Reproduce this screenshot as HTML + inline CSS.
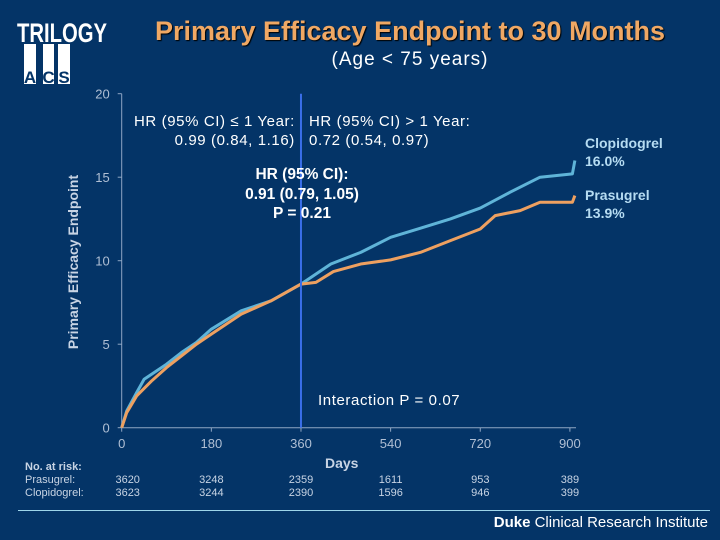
<!DOCTYPE html>
<html><head><meta charset="utf-8">
<style>
html,body{margin:0;padding:0;}
body{width:720px;height:540px;background:#043467;overflow:hidden;position:relative;font-family:"Liberation Sans",sans-serif;}
.abs{position:absolute;white-space:nowrap;}
</style></head>
<body>
<svg width="720" height="540" style="position:absolute;left:0;top:0">
  <g>
    <text x="62" y="42" text-anchor="middle" font-family="Liberation Sans" font-weight="bold" font-size="27" fill="#fff" textLength="90" lengthAdjust="spacingAndGlyphs">TRILOGY</text>
    <rect x="24" y="44" width="12" height="40" fill="#fff"/>
    <rect x="43" y="44" width="11" height="40" fill="#fff"/>
    <rect x="58" y="44" width="12" height="40" fill="#fff"/>
    <text x="30" y="83" text-anchor="middle" font-family="Liberation Sans" font-weight="bold" font-size="17" fill="#043467">A</text>
    <text x="48.5" y="83" text-anchor="middle" font-family="Liberation Sans" font-weight="bold" font-size="17" fill="#043467">C</text>
    <text x="64" y="83" text-anchor="middle" font-family="Liberation Sans" font-weight="bold" font-size="17" fill="#043467">S</text>
  </g>
  <g id="axes"></g>
  <g id="series"></g>
</svg>
<div class="abs" style="left:0;width:820px;top:16px;text-align:center;font-size:27px;font-weight:bold;color:#f0a864;text-shadow:1px 1px 1px #000;">Primary Efficacy Endpoint to 30 Months</div>
<div class="abs" style="left:0;width:820px;top:49px;text-align:center;font-size:19px;letter-spacing:1px;color:#fff;">(Age &lt; 75 years)</div>
<div class="abs" style="left:73px;top:262px;transform:translate(-50%,-50%) rotate(-90deg);font-size:14px;font-weight:bold;color:#c8d4e4;">Primary Efficacy Endpoint</div>
<div class="abs" style="left:134px;top:112px;font-size:15px;letter-spacing:0.6px;color:#fff;line-height:19px;text-align:right;">HR (95% CI) ≤ 1 Year:<br>0.99 (0.84, 1.16)</div>
<div class="abs" style="left:309px;top:112px;font-size:15px;letter-spacing:0.6px;color:#fff;line-height:19px;">HR (95% CI) &gt; 1 Year:<br>0.72 (0.54, 0.97)</div>
<div class="abs" style="left:202px;top:165px;width:200px;text-align:center;font-size:15.5px;font-weight:bold;color:#fff;line-height:19.5px;">HR (95% CI):<br>0.91 (0.79, 1.05)<br>P = 0.21</div>
<div class="abs" style="left:318px;top:392px;font-size:15px;letter-spacing:0.6px;color:#fff;">Interaction P = 0.07</div>
<div class="abs" style="left:585px;top:134px;font-size:14px;font-weight:bold;color:#b6dcf2;line-height:18px;">Clopidogrel<br>16.0%</div>
<div class="abs" style="left:585px;top:186px;font-size:14px;font-weight:bold;color:#b6dcf2;line-height:18px;">Prasugrel<br>13.9%</div>
<div class="abs" style="left:325px;top:455px;font-size:14px;font-weight:bold;color:#c8d4e4;">Days</div>
<div class="abs" style="left:25px;top:461px;font-size:11px;font-weight:bold;color:#c8d4e4;">No. at risk:</div>
<div class="abs" style="left:25px;top:474px;font-size:11px;color:#c8d4e4;">Prasugrel:</div>
<div class="abs" style="left:25px;top:487px;font-size:11px;color:#c8d4e4;">Clopidogrel:</div>
<div class="abs" style="left:18px;top:510px;width:692px;height:1px;background:#9fd6ea;"></div>
<div class="abs" style="right:12px;top:514px;font-size:15px;color:#fff;"><b>Duke</b> Clinical Research Institute</div>
<script>
const xTicks=[0,180,360,540,720,900];
const yTicks=[0,5,10,15,20];
const riskPrasugrel=[3620,3248,2359,1611,953,389];
const riskClopidogrel=[3623,3244,2390,1596,946,399];
const clopDays=[0,10,30,45,60,90,120,150,180,240,300,360,420,480,540,600,660,720,780,840,905,910];
const clopVals=[0,1.0,2.1,2.9,3.2,3.8,4.5,5.1,5.9,7.0,7.6,8.6,9.8,10.5,11.4,11.95,12.5,13.15,14.1,15.0,15.2,16.0];
const prasDays=[0,10,30,60,90,120,150,180,240,300,360,390,425,480,540,600,660,720,750,800,840,905,910];
const prasVals=[0,0.9,1.9,2.8,3.6,4.3,5.0,5.6,6.8,7.6,8.6,8.7,9.35,9.8,10.05,10.5,11.2,11.9,12.7,13.0,13.5,13.5,13.9];
const X=d=>121.7+d*0.498;
const Y=v=>427.7-v*16.7;
const NS="http://www.w3.org/2000/svg";
const ax=document.getElementById('axes'), se=document.getElementById('series');
function mk(tag,attrs,parent){const e=document.createElementNS(NS,tag);for(const k in attrs)e.setAttribute(k,attrs[k]);parent.appendChild(e);return e;}
let l=mk('line',{x1:X(0),y1:Y(0),x2:X(0),y2:Y(20),stroke:'#8fa6c4','stroke-width':1},ax);


l=mk('line',{x1:X(0),y1:Y(0),x2:576,y2:Y(0),stroke:'#8fa6c4','stroke-width':1},ax);


yTicks.forEach(v=>{
  mk('line',{x1:X(0)-4,y1:Y(v),x2:X(0),y2:Y(v),stroke:'#8fa6c4'},ax);
  const t=mk('text',{x:X(0)-12,y:Y(v)+5,'text-anchor':'end','font-size':13,fill:'#b0bfd4','font-family':'Liberation Sans'},ax);
  t.textContent=v;
  
  
});
xTicks.forEach((d,i)=>{
  mk('line',{x1:X(d),y1:Y(0),x2:X(d),y2:Y(0)+4,stroke:'#8fa6c4'},ax);
  const t=mk('text',{x:X(d),y:448,'text-anchor':'middle','font-size':13,fill:'#b0bfd4','font-family':'Liberation Sans'},ax);
  t.textContent=d;
  
  
  [[riskPrasugrel,483],[riskClopidogrel,496]].forEach(([arr,y])=>{
    const r=mk('text',{x:X(d)+(i==0?6:0),y:y,'text-anchor':'middle','font-size':11,fill:'#c8d4e4','font-family':'Liberation Sans'},ax);
    r.textContent=arr[i];
    
    
  });
});
function path(days,vals){let s='M'+X(days[0])+','+Y(vals[0]);for(let i=1;i<days.length;i++){s+=' L'+X(days[i])+','+Y(vals[i]);}return s;}
let p=mk('path',{d:path(clopDays,clopVals),fill:'none',stroke:'#5fb4d8','stroke-width':3,'stroke-linejoin':'round'},se);


p=mk('path',{d:path(prasDays,prasVals),fill:'none',stroke:'#eea060','stroke-width':3,'stroke-linejoin':'round'},se);


l=mk('line',{x1:X(360),y1:Y(20),x2:X(360),y2:Y(0),stroke:'#3a6ee8','stroke-width':2},se);


</script>
</body></html>
